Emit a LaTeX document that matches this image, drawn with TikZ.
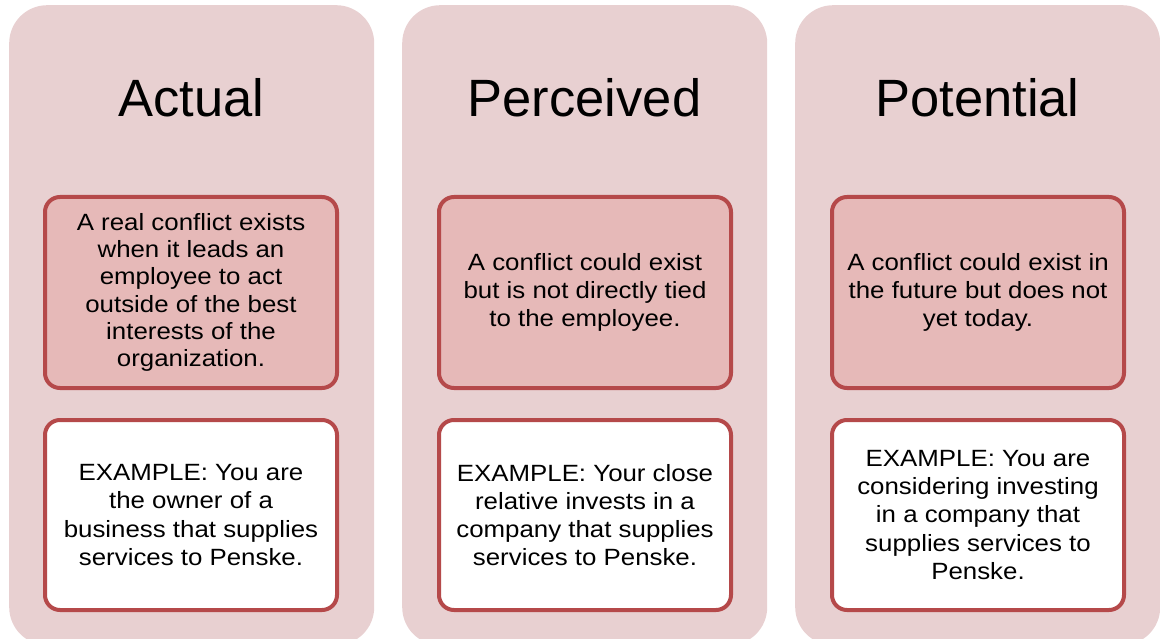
\documentclass[tikz,border=0pt]{standalone}
\usepackage{fontspec}
\setmainfont{Liberation Sans}
\newfontfamily\bodyfont[FakeStretch=1.1]{Liberation Sans}
\definecolor{colfill}{HTML}{E8D0D1}
\definecolor{boxfill}{HTML}{E6B9B8}
\definecolor{boxline}{HTML}{B5494A}
\begin{document}
\begin{tikzpicture}[x=1pt,y=-1pt,
  column/.style={fill=colfill,draw=none,rounded corners=38pt,minimum width=365pt,minimum height=640pt,anchor=north west,inner sep=0pt},
  title/.style={font=\fontsize{52.5}{60}\selectfont,anchor=base},
  defbox/.style={draw=boxline,fill=boxfill,line width=4pt,rounded corners=15pt,minimum width=292pt,minimum height=191pt,align=center,inner sep=0pt,font=\bodyfont\fontsize{23.5}{28.2}\selectfont},
  tightbox/.style={defbox,font=\bodyfont\fontsize{23.5}{27.2}\selectfont},
  exbox/.style={defbox,fill=white,minimum height=190pt}]
\useasboundingbox (0,0) rectangle (1160,639);
\clip (0,0) rectangle (1160,639);
\node[column] (c1) at (9,5) {};
\node[column] (c2) at (402,5) {};
\node[column] (c3) at (795,5) {};
\node[title] (t1) at (191.5,117) {Actual};
\node[title] (t2) at (584.5,117) {Perceived};
\node[title] (t3) at (977.5,117) {Potential};
\node[tightbox] (d1) at (191,292.5) {A real conflict exists\\when it leads an\\employee to act\\outside of the best\\interests of the\\organization.};
\node[defbox] (d2) at (585,292.5) {A conflict could exist\\but is not directly tied\\to the employee.};
\node[defbox] (d3) at (978,292.5) {A conflict could exist in\\the future but does not\\yet today.};
\node[exbox] (e1) at (191,515) {EXAMPLE: You are\\the owner of a\\business that supplies\\services to Penske.};
\node[exbox] (e2) at (585,515) {EXAMPLE: Your close\\relative invests in a\\company that supplies\\services to Penske.};
\node[exbox] (e3) at (978,515) {EXAMPLE: You are\\considering investing\\in a company that\\supplies services to\\Penske.};
\end{tikzpicture}
\end{document}
